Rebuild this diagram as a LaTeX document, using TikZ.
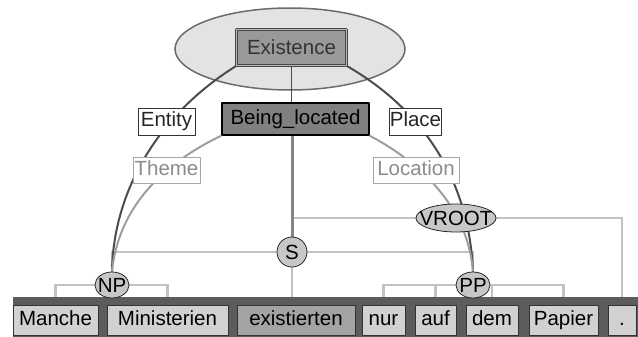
\documentclass[tikz,border=0pt]{standalone}
\usepackage{fontspec}
\setmainfont{Liberation Sans}
\usetikzlibrary{shapes.geometric}
\pgfdeclarelayer{area}
\pgfdeclarelayer{links}
\pgfsetlayers{area,links,main}
\tikzset{
  word/.style={draw=black!80, line width=1pt, minimum height=30pt, inner sep=0pt, text height=14pt, text depth=4pt},
  role/.style={draw=black!80, fill=white, text=black!85, line width=0.8pt, minimum height=27pt, inner sep=0pt, text height=14pt, text depth=3pt},
  rolefaint/.style={draw=black!35, fill=white, text=black!45, line width=0.8pt, minimum height=26pt, inner sep=0pt, text height=14pt, text depth=3pt},
  cat/.style={ellipse, draw=black!85, fill=black!22, line width=0.8pt, inner sep=0pt},
  syn/.style={draw=black!24, line width=2.5pt, line cap=butt},
  fedge/.style={draw=black!70, line width=2pt},
  fedgefaint/.style={draw=black!38, line width=2pt}
}
\begin{document}
\begin{tikzpicture}[x=1pt, y=-1pt, font=\fontsize{20.5}{24}\selectfont, line join=round, line cap=round]
				\useasboundingbox (0,0) rectangle (638,337);
				% frame area and frames
				\begin{pgfonlayer}{area}
					\node[ellipse, draw=black!58, fill=black!11, line width=1.5pt, minimum width=230pt, minimum height=82pt] (area) at (290,49) {};
				\end{pgfonlayer}
				\node[draw=black!72, double=black!28, double distance=1.2pt, line width=1.2pt, fill=black!40, text=black!80, minimum width=110pt, minimum height=36pt, inner sep=0pt] (Existence) at (291.5,47.5) {Existence};
				\node[draw=black, fill=black!50, line width=1.5pt, minimum width=147pt, minimum height=32pt, inner sep=0pt] (Being) at (295.5,119) {Being\_located};
				% frame elements
				\node[role, minimum width=57pt] (Entity) at (166.5,121.5) {Entity};
				\node[role, minimum width=51pt] (Place) at (415.5,121.5) {Place};
				\node[rolefaint, minimum width=67pt] (Theme) at (166.5,170) {Theme};
				\node[rolefaint, minimum width=86pt] (Location) at (416,170) {Location};
				% syntax
				\fill[black!64] (13,297) rectangle (638,337);
				\foreach \nm/\txt/\cx/\w/\shade in {Manche/Manche/55.5/85/18, Ministerien/Ministerien/167.5/121/18, existierten/existierten/296/118/36, nur/nur/383.5/43/18, auf/auf/435.5/41/18, dem/dem/492/52/18, Papier/Papier/563.5/69/18, dot/./622/28/18}
					\node[word, fill=black!\shade, minimum width=\w pt] (\nm) at (\cx,320) {\txt};
				\node[cat, minimum width=34pt, minimum height=26pt] (NP) at (112,285) {\makebox[0pt]{NP}};
				\node[cat, minimum width=34pt, minimum height=26pt] (PP) at (473,285) {\makebox[0pt]{PP}};
				\node[cat, circle, minimum size=30pt] (S) at (292,252) {\makebox[0pt]{S}};
				\node[cat, minimum width=80pt, minimum height=28pt] (VROOT) at (456,218) {\makebox[0pt]{VROOT}};
				\begin{pgfonlayer}{links}
					\draw[syn] (NP.west) -| (Manche.north);
					\draw[syn] (NP.east) -| (Ministerien.north);
					\foreach \w in {nur, auf} \draw[syn] (PP.west) -| (\w.north);
					\foreach \w in {dem, Papier} \draw[syn] (PP.east) -| (\w.north);
					\draw[syn] (S.west) -| (NP.north);
					\draw[syn] (S.east) -| (PP.north);
					\draw[syn] (S.south) -- (S.south |- existierten.north);
					\draw[syn] (VROOT.west) -| (S.north);
					\draw[syn] (VROOT.east) -| (dot.north);
					\draw[fedge, line width=1.5pt] (Existence.south) -- (Existence.south |- Being.north);
					\draw[draw=black!48, line width=3pt, line cap=butt] (S.north |- Being.south) -- (S.north);
					\draw[fedge] (Existence.south west) .. controls (150,120) and (113,200) .. (NP.north);
					\draw[fedge] (Existence.south east) .. controls (440,120) and (470,200) .. (PP.north);
					\draw[fedgefaint] (Being.south west) .. controls (160,165) and (118,210) .. (NP.north);
					\draw[fedgefaint] (Being.south east) .. controls (425,165) and (468,210) .. (PP.north);
				\end{pgfonlayer}
			\end{tikzpicture}
\end{document}
